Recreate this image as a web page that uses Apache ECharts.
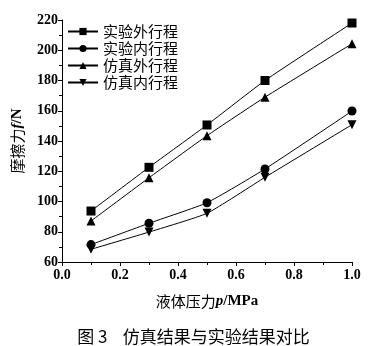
<!DOCTYPE html>
<html><head><meta charset="utf-8">
<script src="https://cdn.jsdelivr.net/npm/echarts@6/dist/echarts.min.js"></script>
<style>html,body{margin:0;padding:0;background:#fff}#c{width:387px;height:346px}</style>
</head><body><div id="c"></div>
<script>
var pressure = [0.1, 0.3, 0.5, 0.7, 1.0];
var expOuter = [93.7, 122.6, 150.6, 180.0, 218.0];
var expInner = [71.5, 85.6, 99.2, 121.5, 159.8];
var simOuter = [87.1, 115.7, 143.5, 169.0, 204.3];
var simInner = [68.4, 79.8, 92.2, 116.0, 150.8];
var names = ['实验外行程', '实验内行程', '仿真外行程', '仿真内行程'];
var symbols = ['rect', 'circle', 'triangle', 'path://M0,0 L10,0 L5,9 Z'];
var values = [expOuter, expInner, simOuter, simInner];
var serifB = 'Liberation Serif';
var chart = echarts.init(document.getElementById('c'));
function pairs(v){ return pressure.map(function(p,i){return [p, v[i]];}); }
var series = names.map(function(n, k){
  return {
    name: n, type: 'line', data: pairs(values[k]), smooth: 0.15,
    symbol: symbols[k], symbolSize: 9,
    lineStyle: {color: '#000', width: 1},
    itemStyle: {color: '#000'}
  };
});
chart.setOption({
  animation: false,
  grid: {left: 62, right: 35, top: 20, bottom: 84},
  legend: {
    orient: 'vertical', left: 62, top: 19, itemWidth: 30, itemHeight: 9, itemGap: 2,
    textStyle: {fontFamily: 'Noto Sans CJK SC', fontSize: 15, color: '#000'},
    data: names
  },
  title: {
    text: '图 3    仿真结果与实验结果对比', left: 'center', top: 322,
    textStyle: {fontFamily: 'Noto Sans CJK SC', fontSize: 17, fontWeight: 'normal', color: '#000', lineHeight: 20}
  },
  xAxis: {
    type: 'value', min: 0, max: 1, interval: 0.2,
    axisLine: {lineStyle: {color: '#000', width: 1}},
    axisTick: {show: true, inside: false, length: 4, lineStyle: {color: '#000'}},
    minorTick: {show: true, splitNumber: 2, length: 3, lineStyle: {color: '#000'}},
    splitLine: {show: false},
    axisLabel: {fontFamily: serifB, fontWeight: 'bold', fontSize: 14, color: '#000', margin: 6,
      formatter: function(v){ return v.toFixed(1); }},
    name: '{a|液体压力}{b|p}{c|/MPa}', nameLocation: 'middle', nameGap: 32,
    nameTextStyle: {rich: {
      a: {fontFamily: 'Noto Sans CJK SC', fontSize: 15, color: '#000'},
      b: {fontFamily: serifB, fontWeight: 'bold', fontStyle: 'italic', fontSize: 15, color: '#000'},
      c: {fontFamily: serifB, fontWeight: 'bold', fontSize: 15, color: '#000'}
    }}
  },
  yAxis: {
    type: 'value', min: 60, max: 220, interval: 20,
    axisLine: {show: true, lineStyle: {color: '#000', width: 1}},
    axisTick: {show: true, inside: false, length: 4, lineStyle: {color: '#000'}},
    minorTick: {show: true, splitNumber: 2, length: 3, lineStyle: {color: '#000'}},
    splitLine: {show: false},
    axisLabel: {fontFamily: serifB, fontWeight: 'bold', fontSize: 14, color: '#000', margin: 4},
    name: '{a|摩擦力}{b|f}{c|/N}', nameLocation: 'middle', nameGap: 37, nameRotate: 90,
    nameTextStyle: {rich: {
      a: {fontFamily: 'Noto Sans CJK SC', fontSize: 15, color: '#000'},
      b: {fontFamily: serifB, fontWeight: 'bold', fontStyle: 'italic', fontSize: 15, color: '#000'},
      c: {fontFamily: serifB, fontWeight: 'bold', fontSize: 15, color: '#000'}
    }}
  },
  series: series
});
</script></body></html>
